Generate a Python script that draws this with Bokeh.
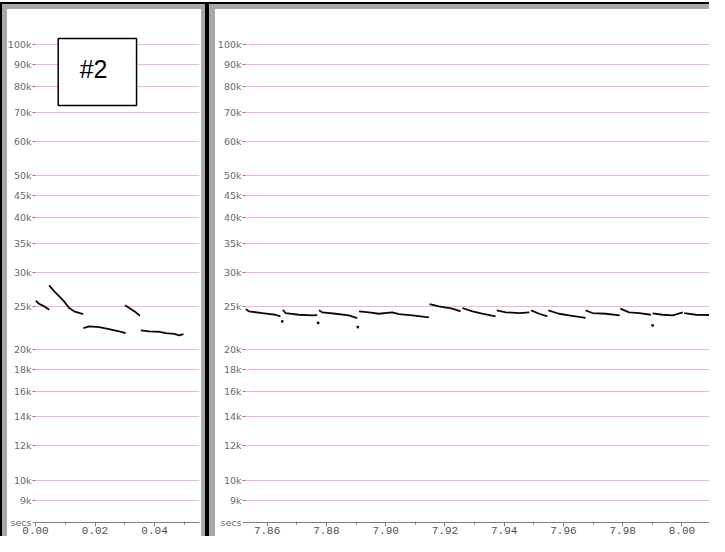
from bokeh.plotting import figure
from bokeh.layouts import row
from bokeh.models import FixedTicker, PrintfTickFormatter, Label, BoxAnnotation, Range1d
from bokeh.embed import file_html
from bokeh.resources import INLINE

# ---- data -------------------------------------------------------------
freq_ticks = [9000, 10000, 12000, 14000, 16000, 18000, 20000, 25000, 30000,
              35000, 40000, 45000, 50000, 60000, 70000, 80000, 90000, 100000]
freq_labels = ["9k", "10k", "12k", "14k", "16k", "18k", "20k", "25k", "30k",
               "35k", "40k", "45k", "50k", "60k", "70k", "80k", "90k", "100k"]
time_unit_label = "secs"

left_major = [0.00, 0.02, 0.04]
left_minor = [0.01, 0.03, 0.05]
right_major = [7.86, 7.88, 7.90, 7.92, 7.94, 7.96, 7.98, 8.00]
right_minor = [7.87, 7.89, 7.91, 7.93, 7.95, 7.97, 7.99]

# call segments, first window (secs, Hz)
left_seg_t = [
    [0.0000, 0.0012, 0.0029, 0.0046],
    [0.0046, 0.0063, 0.0080, 0.0096, 0.0113, 0.0130, 0.0160],
    [0.0161, 0.0180, 0.0214, 0.0247, 0.0281, 0.0303],
    [0.0301, 0.0320, 0.0337, 0.0351],
    [0.0354, 0.0382, 0.0416, 0.0438, 0.0466, 0.0483, 0.0497],
]
left_seg_f = [
    [25840, 25430, 25080, 24640],
    [28030, 27150, 26440, 25750, 24860, 24430, 24080],
    [22360, 22560, 22480, 22240, 21970, 21770],
    [25210, 24720, 24300, 23870],
    [22090, 21970, 21930, 21770, 21690, 21510, 21660],
]

# call segments, second window
right_seg_t = [
    [7.8527, 7.8538, 7.8583, 7.8628, 7.8645],
    [7.8653, 7.8662, 7.8707, 7.8752, 7.8769],
    [7.8775, 7.8786, 7.8831, 7.8876, 7.8904],
    [7.8910, 7.8944, 7.8977, 7.9022, 7.9045, 7.9090, 7.9146],
    [7.9148, 7.9180, 7.9225, 7.9253],
    [7.9259, 7.9293, 7.9326, 7.9371],
    [7.9375, 7.9406, 7.9451, 7.9485],
    [7.9491, 7.9518, 7.9546],
    [7.9549, 7.9585, 7.9619, 7.9664, 7.9675],
    [7.9675, 7.9698, 7.9743, 7.9790],
    [7.9792, 7.9822, 7.9856, 7.9895],
    [7.9901, 7.9935, 7.9969, 8.0003],
    [8.0008, 8.0047, 8.0103],
]
right_seg_f = [
    [24730, 24430, 24210, 23990, 23790],
    [24640, 24210, 23990, 23910, 23950],
    [24560, 24300, 24120, 23910, 23570],
    [24430, 24300, 24120, 24300, 24080, 23910, 23660],
    [25390, 25080, 24770, 24430],
    [24860, 24430, 24120, 23790],
    [24560, 24300, 24210, 24300],
    [24560, 24120, 23790],
    [24560, 24120, 23910, 23660, 23600],
    [24560, 24210, 24120, 23910],
    [24770, 24300, 24210, 23990],
    [24170, 23990, 23910, 24300],
    [24210, 23990, 23950],
]
right_dot_t = [7.8651, 7.8772, 7.8906, 7.9901]
right_dot_f = [23160, 22980, 22480, 22680]

# panel tag
tag_text = "#2"
tag_box = dict(left=0.00763, right=0.03395, bottom=72500, top=103200)
tag_pos = (0.0195, 88000)

# axis ranges
y_lo, y_hi = 8006, 119700
left_x = (0.0, 0.0551)
right_x = (7.8527, 8.0093)

# ---- styling ----------------------------------------------------------
GRID = "#ffb4b4"
FRAME_GRAY = "#a8a8a8"
AX = "#808080"
TRACE = "#0a0a0a"


def make_panel(width, xr, major, minor, border_left, border_right, shadow):
    p = figure(width=width, height=536, x_range=Range1d(*xr),
               y_range=Range1d(y_lo, y_hi), y_axis_type="log",
               output_backend="svg", toolbar_location=None,
               min_border_left=border_left, min_border_right=border_right,
               min_border_top=10, min_border_bottom=12)
    p.border_fill_alpha = 0
    p.background_fill_color = "white"
    p.outline_line_color = None
    p.styles = {"background-color": "white", "box-shadow": shadow}

    p.xgrid.visible = False
    p.ygrid.ticker = FixedTicker(ticks=freq_ticks, minor_ticks=[])
    p.ygrid.grid_line_color = GRID
    p.ygrid.grid_line_width = 1

    # y axis: frequency ticks, plus the time-unit caption at the axis corner
    ya = p.yaxis[0]
    ya.ticker = FixedTicker(ticks=[y_lo] + freq_ticks, minor_ticks=[])
    overrides = {t: l for t, l in zip(freq_ticks, freq_labels)}
    overrides[y_lo] = time_unit_label
    ya.major_label_overrides = overrides
    ya.axis_line_color = None
    ya.major_tick_in = 0
    ya.major_tick_out = 3
    ya.minor_tick_in = 0
    ya.minor_tick_out = 0
    ya.major_tick_line_color = AX
    ya.major_label_standoff = 1
    ya.major_label_text_font = "DejaVu Sans"
    ya.major_label_text_font_size = "9.5px"
    ya.major_label_text_color = "#6a6a6a"

    xa = p.xaxis[0]
    xa.ticker = FixedTicker(ticks=major, minor_ticks=minor)
    xa.formatter = PrintfTickFormatter(format="%.2f")
    xa.axis_line_color = AX
    xa.major_tick_line_color = AX
    xa.minor_tick_line_color = AX
    xa.major_tick_in = 0
    xa.major_tick_out = 4
    xa.minor_tick_in = 1
    xa.minor_tick_out = 2
    xa.major_label_standoff = 0
    xa.major_label_text_font = "Liberation Mono"
    xa.major_label_text_font_size = "11px"
    xa.major_label_text_line_height = 0.72
    xa.major_label_text_color = "#505050"
    return p


left_shadow = ("inset 0 2px 0 0 #fff, inset 0 4px 0 0 #000, inset 2px 0 0 0 #000, "
               "inset -2px 0 0 0 #000, inset 0 9px 0 0 %s, inset 7px 0 0 0 %s, "
               "inset -6px 0 0 0 %s" % (FRAME_GRAY, FRAME_GRAY, FRAME_GRAY))
right_shadow = ("inset 0 2px 0 0 #fff, inset 0 4px 0 0 #000, inset 2px 0 0 0 #000, "
                "inset 0 9px 0 0 %s, inset 8px 0 0 0 %s" % (FRAME_GRAY, FRAME_GRAY))

p1 = make_panel(207, left_x, left_major, left_minor, 35, 8, left_shadow)
p2 = make_panel(502, right_x, right_major, right_minor, 38, 0, right_shadow)

p1.multi_line(xs=left_seg_t, ys=left_seg_f, line_color=TRACE, line_width=1.8)
p2.multi_line(xs=right_seg_t, ys=right_seg_f, line_color=TRACE, line_width=1.8)
p2.scatter(x=right_dot_t, y=right_dot_f, size=2.5, marker="square",
           fill_color=TRACE, line_color=None)

p1.add_layout(BoxAnnotation(fill_color="white", fill_alpha=1.0, line_color="black",
                            line_width=1.5, line_alpha=1.0, **tag_box))
p1.add_layout(Label(x=tag_pos[0], y=tag_pos[1], text=tag_text, text_align="center",
                    text_baseline="middle", text_font="Liberation Sans",
                    text_font_size="25px", text_color="black"))

layout = row(p1, p2)

open("out.html", "w").write(file_html(layout, INLINE))
